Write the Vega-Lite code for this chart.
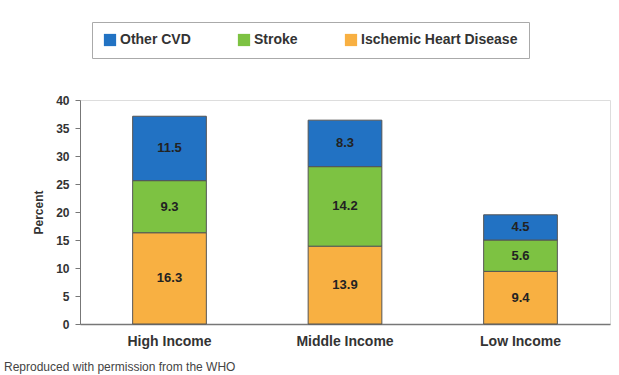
{
  "$schema": "https://vega.github.io/schema/vega-lite/v6.json",
  "width": 530,
  "height": 224,
  "autosize": {"type": "none"},
  "padding": {"left": 80, "top": 100, "right": 9, "bottom": 51},
  "background": "white",
  "title": {
    "text": "Reproduced with permission from the WHO",
    "orient": "bottom",
    "anchor": "start",
    "frame": "group",
    "dx": -76,
    "offset": 14,
    "font": "Liberation Sans",
    "fontSize": 12,
    "fontWeight": "normal",
    "color": "#444"
  },
  "data": {
    "values": [
      {"income": "High Income", "cause": "Ischemic Heart Disease", "value": 16.3, "order": 1},
      {"income": "High Income", "cause": "Stroke", "value": 9.3, "order": 2},
      {"income": "High Income", "cause": "Other CVD", "value": 11.5, "order": 3},
      {"income": "Middle Income", "cause": "Ischemic Heart Disease", "value": 13.9, "order": 1},
      {"income": "Middle Income", "cause": "Stroke", "value": 14.2, "order": 2},
      {"income": "Middle Income", "cause": "Other CVD", "value": 8.3, "order": 3},
      {"income": "Low Income", "cause": "Ischemic Heart Disease", "value": 9.4, "order": 1},
      {"income": "Low Income", "cause": "Stroke", "value": 5.6, "order": 2},
      {"income": "Low Income", "cause": "Other CVD", "value": 4.5, "order": 3}
    ]
  },
  "encoding": {
    "x": {
      "field": "income",
      "type": "nominal",
      "sort": ["High Income", "Middle Income", "Low Income"],
      "scale": {"paddingInner": 0.58, "paddingOuter": 0.3},
      "axis": {
        "title": null,
        "labelAngle": 0,
        "ticks": false,
        "labelFont": "Liberation Sans",
        "labelFontWeight": "bold",
        "labelFontSize": 14,
        "labelColor": "#333",
        "labelPadding": 10,
        "domainColor": "#777",
        "domainWidth": 1.5
      }
    },
    "y": {
      "field": "value",
      "type": "quantitative",
      "aggregate": "sum",
      "stack": "zero",
      "scale": {"domain": [0, 40], "nice": false},
      "axis": {
        "title": "Percent",
        "values": [0, 5, 10, 15, 20, 25, 30, 35, 40],
        "grid": false,
        "tickSize": 5,
        "tickColor": "#777",
        "domainColor": "#777",
        "labelFont": "Liberation Sans",
        "labelFontWeight": "bold",
        "labelFontSize": 12,
        "labelColor": "#333",
        "labelPadding": 6,
        "titleFont": "Liberation Sans",
        "titleFontWeight": "bold",
        "titleFontSize": 12,
        "titleColor": "#333",
        "titlePadding": 10
      }
    },
    "order": {"field": "order", "type": "quantitative"}
  },
  "layer": [
    {
      "mark": {"type": "bar", "stroke": "#555", "strokeWidth": 1},
      "encoding": {
        "color": {
          "field": "cause",
          "type": "nominal",
          "sort": ["Other CVD", "Stroke", "Ischemic Heart Disease"],
          "scale": {
            "domain": ["Other CVD", "Stroke", "Ischemic Heart Disease"],
            "range": ["#2272C3", "#7DC242", "#F8B042"]
          },
          "legend": {
            "title": null,
            "orient": "none",
            "direction": "horizontal",
            "legendX": 12,
            "legendY": -78,
            "symbolType": "square",
            "symbolSize": 150,
            "symbolStrokeWidth": 0,
            "labelFont": "Liberation Sans",
            "labelFontWeight": "bold",
            "labelFontSize": 14,
            "labelColor": "#333",
            "labelOffset": 3,
            "columnPadding": 46,
            "padding": 11,
            "strokeColor": "#aaa",
            "fillColor": "white"
          }
        }
      }
    },
    {
      "mark": {
        "type": "text",
        "font": "Liberation Sans",
        "fontWeight": "bold",
        "fontSize": 13,
        "color": "#222"
      },
      "encoding": {
        "y": {"field": "value", "type": "quantitative", "aggregate": "sum", "stack": "zero", "bandPosition": 0.5},
        "text": {"field": "value", "type": "quantitative", "aggregate": "sum", "format": ".1f"},
        "detail": {"field": "cause"}
      }
    }
  ]
}
